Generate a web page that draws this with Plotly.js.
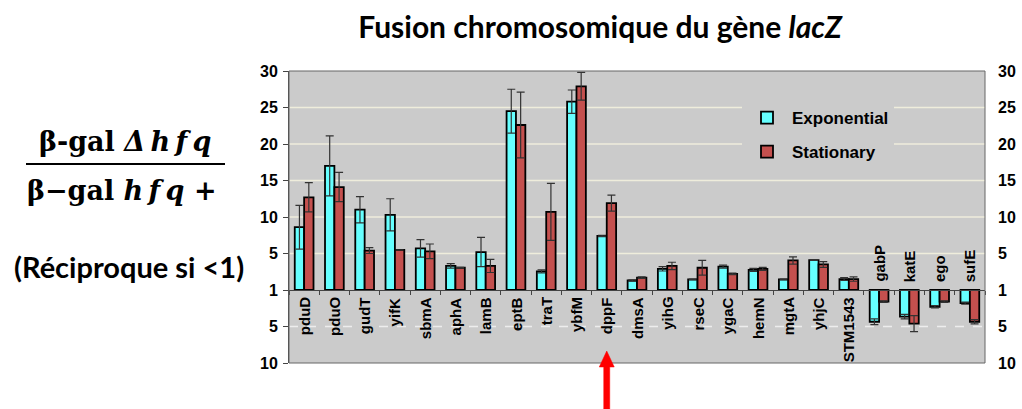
<!DOCTYPE html>
<html><head><meta charset="utf-8">
<script src="https://cdn.plot.ly/plotly-3.0.1.min.js"></script>
<style>html,body{margin:0;padding:0;background:#fff}#chart{width:1022px;height:409px}</style>
</head><body><div id="chart"></div>
<script>
var categories = ['pduD','pduO','gudT','yifK','sbmA','aphA','lamB','eptB','traT','ybfM','dppF','dmsA','yihG','rseC','ygaC','hemN','mgtA','yhjC','STM1543','gabP','katE','ego','sufE'];
var exponential    = [8.6,17.0,11.0,10.3,5.7,3.3,5.2,24.5,2.55,25.8,7.4,1.3,2.9,1.45,3.2,2.75,1.45,4.1,1.5,-4.35,-3.65,-2.3,-1.8];
var exponentialErr = [3.0,4.1,1.8,2.2,1.2,0.3,2.0,3.0,0.2,1.6,0.1,0.1,0.3,0.05,0.2,0.2,0.05,0.05,0.2,0.4,0.3,0.15,0.15];
var stationary     = [12.7,14.1,5.4,5.5,5.3,3.05,3.3,22.6,10.7,27.9,11.9,1.7,3.3,3.05,2.2,2.9,4.05,3.5,1.5,-1.6,-4.6,-1.6,-4.35];
var stationaryErr  = [2.0,2.0,0.4,0.0,1.0,0.05,0.9,4.5,3.9,1.9,1.1,0.1,0.5,1.0,0.1,0.2,0.5,0.4,0.3,0.1,1.1,0.1,0.3];
var tickVals  = [-10,-5,0,5,10,15,20,25,30];
var tickTexts = ['10','5','1','5','10','15','20','25','30'];
var highlighted = 'dppF';

// plot area in pixels
var L = 289, R = 985, T = 71, B = 363, W = 1022, H = 409;
function px(x){ return (x - L) / (R - L); }
function py(y){ return (B - y) / (B - T); }

var lineCol = '#000';
var traces = [
  {type:'bar', name:'Exponential', x:categories, y:exponential, legendgroup:'a',
   marker:{color:'#66FFFF', line:{color:lineCol, width:1.8}},
   error_y:{type:'data', array:exponentialErr, visible:true, color:'#333', thickness:1.2, width:4}},
  {type:'bar', name:'Stationary', x:categories, y:stationary, legendgroup:'b',
   marker:{color:'#C4504E', line:{color:lineCol, width:1.8}},
   error_y:{type:'data', array:stationaryErr, visible:true, color:'#333', thickness:1.2, width:4}},
  {type:'scatter', x:[categories[0]], y:[0], yaxis:'y2', mode:'markers', marker:{opacity:0}, showlegend:false, hoverinfo:'skip'}
];

var shapes = [];
tickVals.forEach(function(v){
  if (v === 0 || v === -10 || v === 30) return;
  shapes.push({type:'line', xref:'paper', yref:'y', x0:0, x1:1, y0:v, y1:v, layer:'below',
    line:{color: v < 0 ? '#EDEDED' : '#EFEDDC', width:1.5, dash: v < 0 ? 'dash' : 'solid'}});
});
shapes.push({type:'rect', xref:'paper', yref:'paper', x0:0, x1:1, y0:0, y1:1, line:{color:'#666', width:1}});
// fraction bar of the left label
shapes.push({type:'line', xref:'paper', yref:'paper', x0:px(26), x1:px(225), y0:py(164), y1:py(164), line:{color:'#000', width:2}});
// red arrow under the highlighted gene
(function(){
  var idx = categories.indexOf(highlighted);
  var cx = L + (idx + 0.5) * (R - L) / categories.length;
  var pts = [[cx,351],[cx+7.5,367],[cx+3,367],[cx+3,409],[cx-3,409],[cx-3,367],[cx-7.5,367]];
  var d = pts.map(function(p,i){ return (i ? 'L' : 'M') + px(p[0]) + ',' + py(p[1]); }).join('') + 'Z';
  shapes.push({type:'path', xref:'paper', yref:'paper', path:d, fillcolor:'#FF0000', line:{color:'#FF0000', width:0.5}});
})();

var annotations = [];
categories.forEach(function(c, i){
  var up = exponential[i] < 0 && stationary[i] < 0;
  annotations.push({x:c, xref:'x', y:0, yref:'y', text:c, showarrow:false, textangle:-90,
    xanchor:'center', yanchor: up ? 'bottom' : 'top', yshift: up ? 6 : -5,
    font:{family:'Liberation Sans, Arial, sans-serif', size:15, color:'#000', weight:'bold'}});
});
var fracFont = {family:'DejaVu Serif, serif', size:27, color:'#000', weight:'bold'};
annotations.push({xref:'paper', yref:'paper', x:px(125), y:py(141), text:'β-gal <i>Δ\u2009h\u2009f\u2009q</i>', showarrow:false,
  xanchor:'center', yanchor:'middle', font:fracFont});
annotations.push({xref:'paper', yref:'paper', x:px(122), y:py(190), text:'β−gal <i>h\u2009f\u2009q</i> +', showarrow:false,
  xanchor:'center', yanchor:'middle', font:fracFont});
annotations.push({xref:'paper', yref:'paper', x:px(129), y:py(266), text:'(Réciproque si &lt;1)', showarrow:false,
  xanchor:'center', yanchor:'middle', font:{family:'Lato, sans-serif', size:29, color:'#000', weight:'bold'}});

var tickFont = {family:'Liberation Sans, Arial, sans-serif', size:16, color:'#000', weight:'bold'};
var layout = {
  width:W, height:H,
  margin:{l:L, r:W-R, t:T, b:H-B, pad:0},
  paper_bgcolor:'#fff', plot_bgcolor:'#CBCBCB',
  barmode:'group', bargap:0.38, bargroupgap:0,
  showlegend:true,
  legend:{x:px(742), y:py(100), xanchor:'left', yanchor:'top', bgcolor:'#CBCBCB',
    traceorder:'grouped', tracegroupgap:9, itemwidth:40,
    font:{family:'Liberation Sans, Arial, sans-serif', size:17, color:'#000', weight:'bold'}},
  title:{text:'<b>Fusion chromosomique du gène <i>lacZ</i></b>', x:600/W, xref:'container', xanchor:'center',
    y:1-27/H, yref:'container', yanchor:'middle',
    font:{family:'Lato, sans-serif', size:30, color:'#000'}},
  xaxis:{type:'category', range:[-0.5, categories.length-0.5], showticklabels:false, showgrid:false,
    ticks:'outside', tickson:'boundaries', ticklen:4, tickcolor:'#444', showline:true, linecolor:'#444', linewidth:1,
    anchor:'free', position:0.25, zeroline:false, fixedrange:true},
  yaxis:{range:[-10,30], tickvals:tickVals, ticktext:tickTexts, showgrid:false, zeroline:false,
    ticks:'outside', ticklen:5, tickcolor:'#444', showline:true, linecolor:'#444', linewidth:1,
    tickfont:tickFont, ticklabelstandoff:2},
  yaxis2:{overlaying:'y', side:'right', range:[-10,30], tickvals:tickVals, ticktext:tickTexts, showgrid:false,
    zeroline:false, showline:false, ticks:'', tickfont:tickFont, ticklabelstandoff:12},
  shapes:shapes, annotations:annotations
};
Plotly.newPlot('chart', traces, layout, {displayModeBar:false, staticPlot:true});
</script></body></html>
